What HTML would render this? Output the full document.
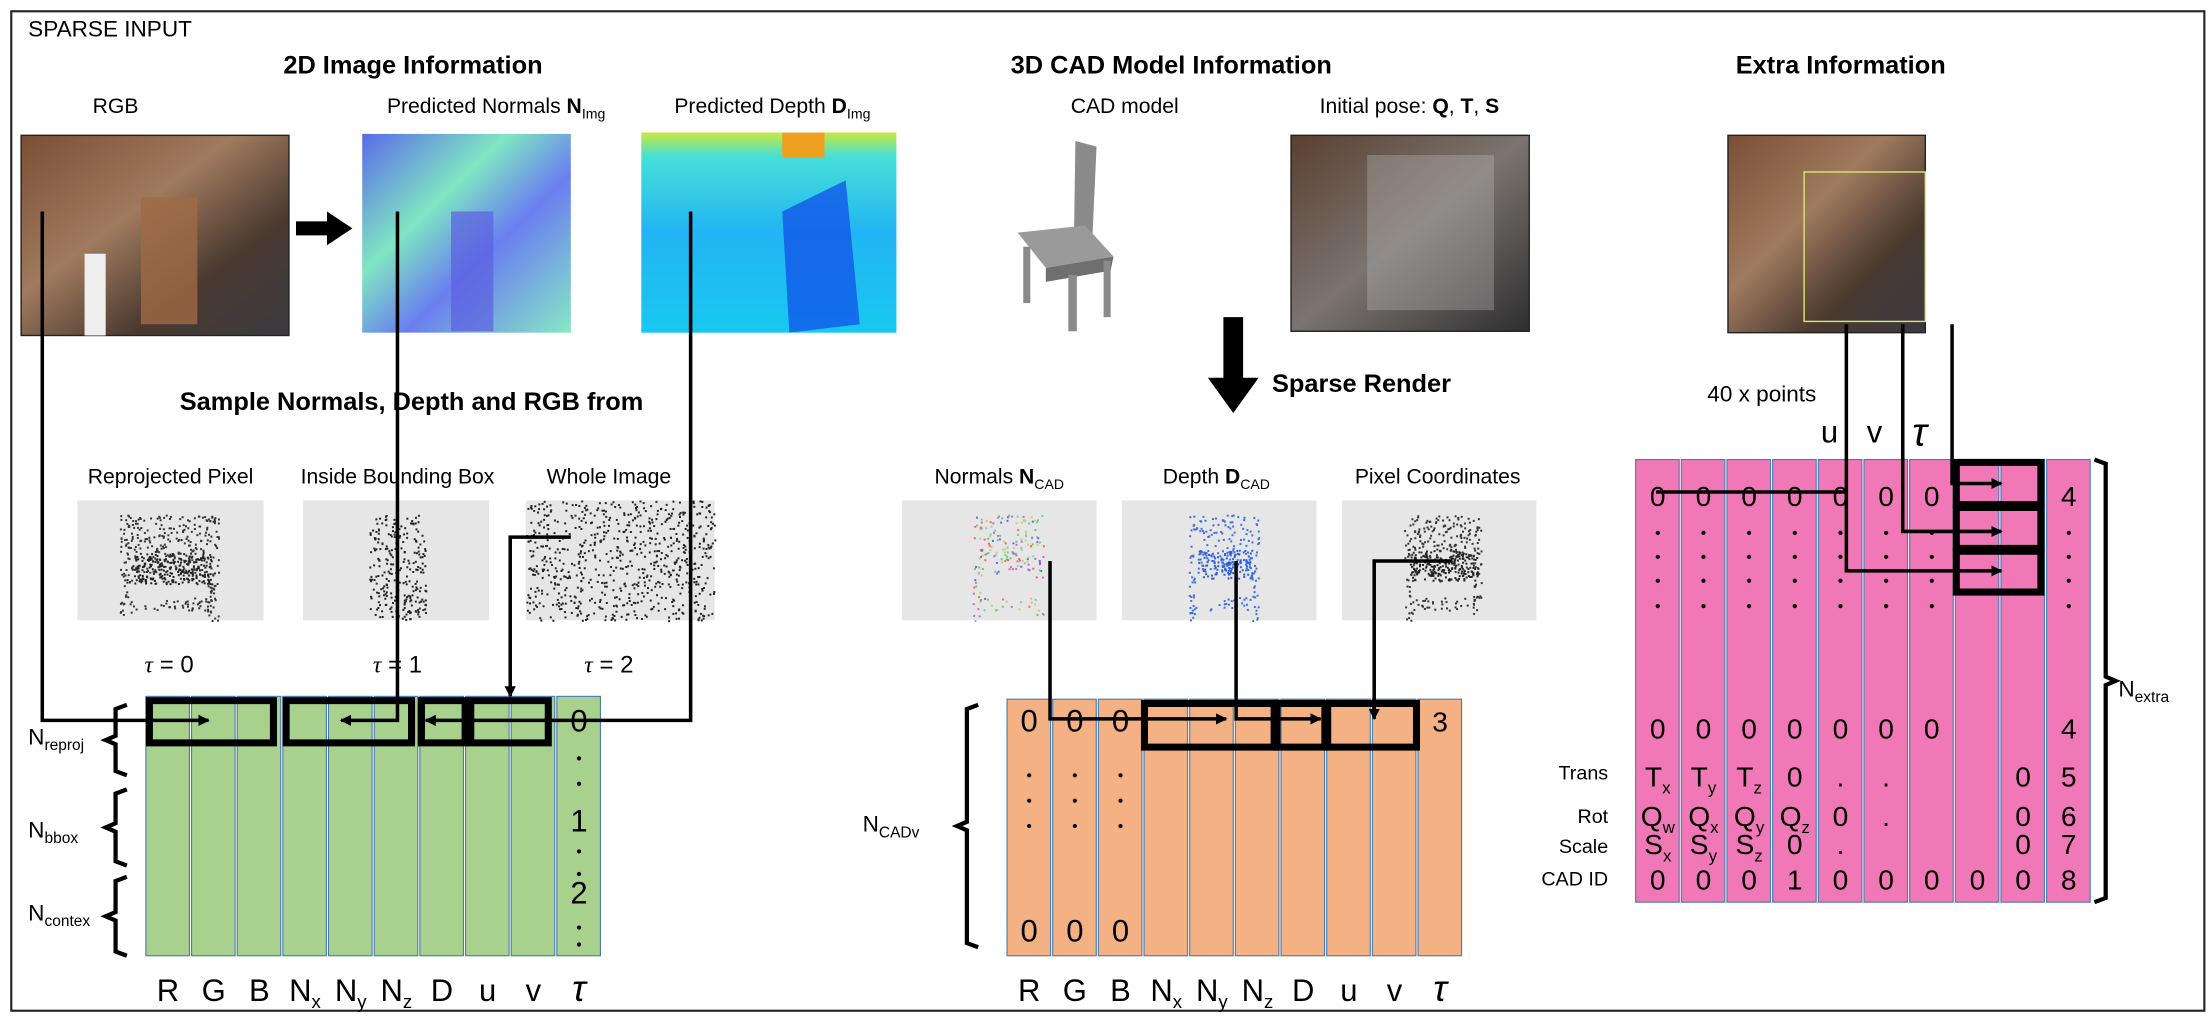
<!DOCTYPE html>
<html><head><meta charset="utf-8">
<style>
html,body{margin:0;padding:0;background:#fff;}
svg{display:block;}
text{font-family:"Liberation Sans",sans-serif;fill:#000;}
</style></head>
<body>
<svg id="s" xmlns="http://www.w3.org/2000/svg" width="2210" height="1022" viewBox="0 0 1568 725" preserveAspectRatio="none">
<defs>
<linearGradient id="gN" x1="0" y1="0" x2="1" y2="1"><stop offset="0" stop-color="#5a6be8"/><stop offset="0.35" stop-color="#7fe6c2"/><stop offset="0.6" stop-color="#6a7ef0"/><stop offset="1" stop-color="#86e8c4"/></linearGradient>
<linearGradient id="gD" x1="0" y1="0" x2="0" y2="1"><stop offset="0" stop-color="#c8e83a"/><stop offset="0.12" stop-color="#46e0d8"/><stop offset="0.5" stop-color="#22b4f4"/><stop offset="1" stop-color="#19c8f0"/></linearGradient>
<linearGradient id="gR" x1="0" y1="0" x2="1" y2="1"><stop offset="0" stop-color="#7a5035"/><stop offset="0.4" stop-color="#a07a5e"/><stop offset="0.7" stop-color="#4a3a30"/><stop offset="1" stop-color="#3a3a40"/></linearGradient>
<linearGradient id="gP" x1="0" y1="0" x2="1" y2="1"><stop offset="0" stop-color="#5a4030"/><stop offset="0.5" stop-color="#7a7470"/><stop offset="1" stop-color="#2e2e30"/></linearGradient>
<marker id="ah" viewBox="0 0 10 10" refX="9" refY="5" markerWidth="3.2" markerHeight="3.2" orient="auto"><path d="M0,0 L10,5 L0,10 z" fill="#000"/></marker>
</defs>
<rect x="8" y="8" width="1556" height="709" fill="#fff" stroke="#222" stroke-width="1.5"/>
<text x="20" y="26" font-size="16">SPARSE INPUT</text>
<g font-weight="bold" font-size="18" text-anchor="middle">
<text x="293" y="52">2D Image Information</text>
<text x="831" y="52">3D CAD Model Information</text>
<text x="1306" y="52">Extra Information</text>
<text x="292" y="291">Sample Normals, Depth and RGB from</text>
<text x="966" y="278">Sparse Render</text>
</g>
<g font-size="15" text-anchor="middle">
<text x="82" y="80">RGB</text>
<text x="352" y="80">Predicted Normals <tspan font-weight="bold">N</tspan><tspan font-size="10" dy="4">Img</tspan></text>
<text x="548" y="80">Predicted Depth <tspan font-weight="bold">D</tspan><tspan font-size="10" dy="4">Img</tspan></text>
<text x="798" y="80">CAD model</text>
<text x="1000" y="80">Initial pose: <tspan font-weight="bold">Q</tspan>, <tspan font-weight="bold">T</tspan>, <tspan font-weight="bold">S</tspan></text>
<text x="1250" y="285" font-size="16">40 x points</text>
<text x="121" y="343">Reprojected Pixel</text>
<text x="282" y="343">Inside Bounding Box</text>
<text x="432" y="343">Whole Image</text>
<text x="709" y="343">Normals <tspan font-weight="bold">N</tspan><tspan font-size="10" dy="4">CAD</tspan></text>
<text x="863" y="343">Depth <tspan font-weight="bold">D</tspan><tspan font-size="10" dy="4">CAD</tspan></text>
<text x="1020" y="343">Pixel Coordinates</text>
<text x="120" y="477" font-size="17"><tspan font-style="italic" font-family="Liberation Serif">τ</tspan> = 0</text>
<text x="282" y="477" font-size="17"><tspan font-style="italic" font-family="Liberation Serif">τ</tspan> = 1</text>
<text x="432" y="477" font-size="17"><tspan font-style="italic" font-family="Liberation Serif">τ</tspan> = 2</text>
</g>
<!-- images -->
<rect x="15" y="96" width="190" height="142" fill="url(#gR)" stroke="#222"/>
<rect x="100" y="140" width="40" height="90" fill="#a06a45" opacity="0.8"/>
<rect x="60" y="180" width="15" height="58" fill="#eee"/>
<rect x="257" y="95" width="148" height="141" fill="url(#gN)"/>
<rect x="320" y="150" width="30" height="85" fill="#5b5fe0" opacity="0.7"/>
<rect x="455" y="94" width="181" height="142" fill="url(#gD)"/>
<rect x="555" y="94" width="30" height="18" fill="#f0a020"/>
<path d="M555,150 L600,128 L610,230 L560,236 z" fill="#1050e8" opacity="0.75"/>
<g fill="#8a8a8a">
<path d="M763,100 L778,104 L775,170 L762,168 z"/>
<path d="M722,165 L770,160 L790,182 L742,190 z" fill="#9a9a9a"/>
<path d="M742,190 L790,182 L788,192 L742,200 z" fill="#6f6f6f"/>
<rect x="726" y="175" width="5" height="40"/><rect x="758" y="195" width="6" height="40"/><rect x="783" y="185" width="5" height="40"/>
</g>
<rect x="916" y="96" width="169" height="139" fill="url(#gP)" stroke="#222"/>
<rect x="970" y="110" width="90" height="110" fill="#bbb" opacity="0.35"/>
<rect x="1226" y="96" width="140" height="140" fill="url(#gR)" stroke="#222"/>
<rect x="1280" y="122" width="86" height="106" fill="none" stroke="#d8e870" stroke-width="1"/>
<!-- arrows -->
<path d="M210,157 L232,157 L232,150 L250,162 L232,174 L232,167 L210,167 z" fill="#000"/>
<path d="M868,225 L882,225 L882,268 L893,268 L875,293 L857,268 L868,268 z" fill="#000"/>
<!-- gray boxes -->
<g fill="#e6e6e6">
<rect x="55" y="355" width="132" height="85"/><rect x="215" y="355" width="132" height="85"/><rect x="373" y="355" width="134" height="85"/>
<rect x="640" y="355" width="138" height="85"/><rect x="796" y="355" width="138" height="85"/><rect x="952" y="355" width="138" height="85"/>
</g>
<g id="dots"></g>
<g id="tables"></g>
<g id="lines" fill="none" stroke="#000" stroke-width="2.5"></g>
</svg>
<script>
var NS="http://www.w3.org/2000/svg";
function el(p,t,a,txt){var e=document.createElementNS(NS,t);for(var k in a)e.setAttribute(k,a[k]);if(txt!=null)e.textContent=txt;p.appendChild(e);return e;}
var seed=7;function rnd(){seed=(seed*16807)%2147483647;return seed/2147483647;}
var D=document.getElementById('dots');
function scatter(x0,y0,w,h,n,col,chair){for(var i=0;i<n;i++){var x=x0+rnd()*w,y=y0+rnd()*h;
 if(chair){var u=(x-x0)/w,v=(y-y0)/h; var ok=(v<0.55)||(u<0.12||u>0.88)||(v>0.78&&v<0.9); if(!ok)continue;}
 var c=col;if(col==='multi'){c=['#e66','#6c6','#66e','#c6c','#6cc','#cc6'][Math.floor(rnd()*6)];}
 el(D,'rect',{x:x,y:y,width:1.4,height:1.4,fill:c});}}
scatter(85,365,70,75,500,'#333',true);scatter(95,392,55,22,250,'#222',false);
scatter(262,365,40,75,260,'#222',false);
scatter(373,355,134,85,700,'#222',false);
scatter(690,365,50,75,260,'multi',true);
scatter(843,365,50,75,300,'#3a6ee8',true);scatter(850,390,40,20,120,'#2a5ee0',false);
scatter(996,365,55,75,380,'#333',true);scatter(1000,390,48,22,200,'#222',false);
var T=document.getElementById('tables');
function table(x0,y0,w,h,n,fill){for(var i=0;i<n;i++)el(T,'rect',{x:x0+i*w+0.5,y:y0,width:w-1.5,height:h,fill:fill,stroke:'#4a7ab0','stroke-width':0.8});}
var cw=32.4;
table(103,494,cw,184,10,'#a9d18e');
table(714,496,cw,182,10,'#f4b183');
table(1160,326,cw,314,10,'#f178b6');
function t(x,y,s,size,anchor,it){var e=el(T,'text',{x:x,y:y,'font-size':size||20,'text-anchor':anchor||'middle'});
 if(it){e.setAttribute('font-family','Liberation Serif');e.setAttribute('font-style','italic');}
 e.textContent=s;return e;}
function sub(x,y,a,b,size){var e=el(T,'text',{x:x,y:y,'font-size':size||20,'text-anchor':'middle'});e.textContent=a;el(e,'tspan',{'font-size':(size||20)*0.6,dy:5},b);}
function colLabels(x0,y){var L=['R','G','B'];for(var i=0;i<3;i++)t(x0+cw*i+cw/2,y,L[i],22);
 sub(x0+cw*3+cw/2,y,'N','x',22);sub(x0+cw*4+cw/2,y,'N','y',22);sub(x0+cw*5+cw/2,y,'N','z',22);
 t(x0+cw*6+cw/2,y,'D',22);t(x0+cw*7+cw/2,y,'u',22);t(x0+cw*8+cw/2,y,'v',22);t(x0+cw*9+cw/2,y,'τ',26,null,true);}
colLabels(103,710);colLabels(714,710);
function vdots(x,ys){ys.forEach(function(y){el(T,'circle',{cx:x,cy:y,r:1.5,fill:'#000'});});}
var gx=103+cw*9+cw/2;t(gx,519,'0',22);vdots(gx,[538,556]);t(gx,590,'1',22);vdots(gx,[604,620]);t(gx,641,'2',22);vdots(gx,[658,670]);
for(var i=0;i<3;i++){var x=714+cw*i+cw/2;t(x,519,'0',22);t(x,668,'0',22);vdots(x,[550,568,586]);}
t(714+cw*9+cw/2,519,'3',20);
var px=1160;function pc(i){return px+cw*i+cw/2;}
for(var i=0;i<7;i++){t(pc(i),359,'0',20);t(pc(i),524,'0',20);vdots(pc(i),[378,395,412,430]);}
t(pc(9),359,'4',20);vdots(pc(9),[378,395,412,430]);t(pc(9),524,'4',20);
t(1298,314,'u',22);t(1330,314,'v',22);t(1362,316,'τ',28,null,true);
function rowS(y,arr){arr.forEach(function(a,i){if(a==null)return;if(Array.isArray(a))sub(pc(i),y,a[0],a[1],20);else t(pc(i),y,a,20);});}
rowS(558,[['T','x'],['T','y'],['T','z'],'0','.','.',null,null,'0','5']);
rowS(586,[['Q','w'],['Q','x'],['Q','y'],['Q','z'],'0','.',null,null,'0','6']);
rowS(606,[['S','x'],['S','y'],['S','z'],'0','.',null,null,null,'0','7']);
rowS(631,['0','0','0','1','0','0','0','0','0','8']);
var lab=[['Trans',553],['Rot',584],['Scale',605],['CAD ID',628]];lab.forEach(function(l){t(1141,l[1],l[0],14,'end');});
function nl(x,y,a,b){var e=el(T,'text',{x:x,y:y,'font-size':16});e.textContent=a;el(e,'tspan',{'font-size':11,dy:4},b);}
nl(20,528,'N','reproj');nl(20,594,'N','bbox');nl(20,653,'N','contex');nl(612,590,'N','CADv');nl(1503,494,'N','extra');
var Lg=document.getElementById('lines');
function P(d,w,m){var e=el(Lg,'path',{d:d,'stroke-width':w||2.5});if(m)e.setAttribute('marker-end','url(#ah)');return e;}
function braceL(x,y1,y2){var m=(y1+y2)/2;P('M'+(x+8)+','+y1+' L'+x+','+(y1+3)+' L'+x+','+(m-3)+' L'+(x-7)+','+m+' L'+x+','+(m+3)+' L'+x+','+(y2-3)+' L'+(x+8)+','+y2,3);}
function braceR(x,y1,y2){var m=(y1+y2)/2;P('M'+(x-8)+','+y1+' L'+x+','+(y1+3)+' L'+x+','+(m-3)+' L'+(x+7)+','+m+' L'+x+','+(m+3)+' L'+x+','+(y2-3)+' L'+(x-8)+','+y2,3);}
braceL(82,500,550);braceL(82,560,614);braceL(82,622,678);braceL(686,500,672);braceR(1494,326,640);
function bx(x1,y1,x2,y2){P('M'+x1+','+y1+' H'+x2+' V'+y2+' H'+x1+' Z',5);}
bx(106,497,194,527);bx(203,497,292,527);bx(299,497,330,527);bx(334,497,389,527);
bx(812,499,904,530);bx(906,499,940,530);bx(942,499,1005,530);
bx(1388,328,1448,358);bx(1388,360,1448,389);bx(1388,391,1448,420);
P('M30,150 V511 H148',2.5,true);
P('M282,150 V511 H242',2.5,true);
P('M490,150 V511 H302',2.5,true);
P('M405,381 H362 V494',2.5,true);
P('M745,398 V510 H870',2.5,true);
P('M877,398 V510 H937',2.5,true);
P('M1030,398 H975 V510',2.5,true);
P('M1175,349 H1310',2.5,false);
P('M1310,230 V405 H1420',2.5,true);
P('M1350,230 V377 H1420',2.5,true);
P('M1385,230 V343 H1420',2.5,true);
</script>
</body></html>
